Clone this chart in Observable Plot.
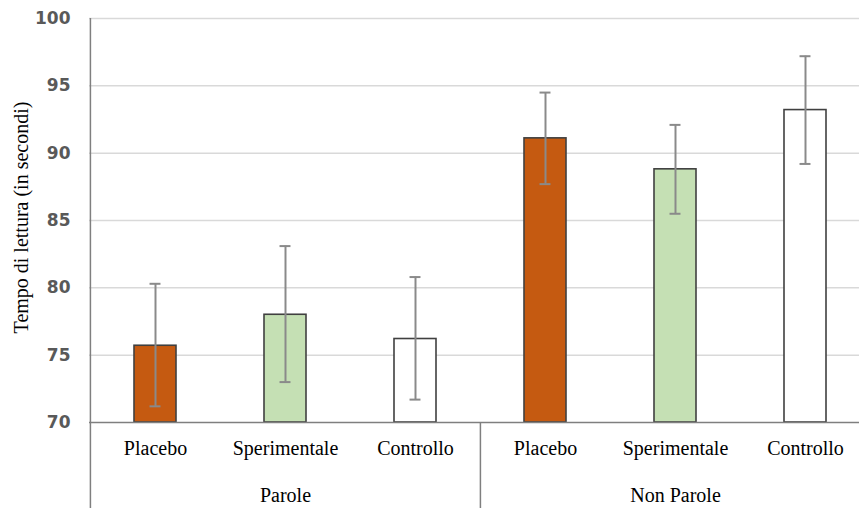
<!DOCTYPE html>
<html>
<head>
<meta charset="utf-8">
<script src="https://cdn.jsdelivr.net/npm/d3@7"></script>
<script src="https://cdn.jsdelivr.net/npm/@observablehq/plot@0.6"></script>
<style>
  html, body { margin: 0; padding: 0; background: #ffffff; }
  #chart { width: 859px; height: 508px; overflow: hidden; }
</style>
</head>
<body>
<div id="chart"></div>
<script>
// ---- data ----
const groups = ["Parole", "Non Parole"];
const conditions = ["Placebo", "Sperimentale", "Controllo"];
const meansParole = [75.7, 78.0, 76.2];
const meansNonParole = [91.1, 88.8, 93.2];
const errLowParole = [71.2, 73.0, 71.7];
const errHighParole = [80.3, 83.1, 80.8];
const errLowNonParole = [87.7, 85.5, 89.2];
const errHighNonParole = [94.5, 92.1, 97.2];
const yTicks = [70, 75, 80, 85, 90, 95, 100];
const conditionColors = ["#C55A11", "#C5E0B4", "#FFFFFF"];
const yLabel = "Tempo di lettura (in secondi)";

// ---- build table ----
const means = [meansParole, meansNonParole];
const lows = [errLowParole, errLowNonParole];
const highs = [errHighParole, errHighNonParole];
const data = [];
groups.forEach((g, gi) => {
  conditions.forEach((c, ci) => {
    data.push({key: g + "|" + c, group: g, cond: c, mean: means[gi][ci], lo: lows[gi][ci], hi: highs[gi][ci]});
  });
});
const keys = data.map(d => d.key);
const yMin = yTicks[0];

const W = 859, H = 508;
const mTop = 18, mBottom = 86, mLeft = 89;
const xOpts = {type: "band", domain: keys, range: [89, 870], paddingInner: 0.677, paddingOuter: 0.3385, align: 0.5};
const xs = Plot.scale({x: xOpts});
const step = xs.step;
const bw = xs.bandwidth;
const frameH = H - mTop - mBottom;

const groupFirst = groups.map(g => g + "|" + conditions[0]);
const groupMid = groups.map(g => ({key: g + "|" + conditions[1], label: g}));

const serif = "Liberation Serif";
const capInset = (bw - 11) / 2;

const plot = Plot.plot({
  width: W,
  height: H,
  marginTop: mTop,
  marginBottom: mBottom,
  marginLeft: mLeft,
  marginRight: 0,
  style: {background: "#ffffff", overflow: "visible"},
  x: {...xOpts, axis: null},
  y: {domain: [yTicks[0], yTicks[yTicks.length - 1]], axis: null},
  color: {domain: conditions, range: conditionColors},
  marks: [
    Plot.ruleY(yTicks.slice(1), {stroke: "#d9d9d9", strokeWidth: 1.5}),
    Plot.barY(data, {x: "key", y1: d => yMin, y2: "mean", fill: "cond", stroke: "#404040", strokeWidth: 1.6}),
    Plot.ruleX(data, {x: "key", y1: "lo", y2: "hi", stroke: "#8a8a8a", strokeWidth: 2}),
    Plot.tickY(data, {x: "key", y: "lo", stroke: "#8a8a8a", strokeWidth: 2, insetLeft: capInset, insetRight: capInset}),
    Plot.tickY(data, {x: "key", y: "hi", stroke: "#8a8a8a", strokeWidth: 2, insetLeft: capInset, insetRight: capInset}),
    Plot.ruleY([yMin], {stroke: "#7f7f7f", strokeWidth: 1.5}),
    Plot.ruleX([groupFirst[0]], {x: d => d, dx: -step / 2, stroke: "#7f7f7f", strokeWidth: 1.5, insetBottom: -mBottom}),
    Plot.ruleX([groupFirst[1]], {x: d => d, dx: -step / 2, stroke: "#7f7f7f", strokeWidth: 1.5, insetTop: frameH, insetBottom: -mBottom}),
    Plot.text(yTicks, {frameAnchor: "left", y: d => d, text: d => String(d), dx: -19, textAnchor: "end",
      fontFamily: "DejaVu Sans", fontWeight: "bold", fontSize: 17, fill: "#595959"}),
    Plot.text([yLabel], {frameAnchor: "left", text: d => d, rotate: -90, dx: -68, dy: -3, textAnchor: "middle",
      fontFamily: serif, fontSize: 20, fill: "#000000"}),
    Plot.text(data, {x: "key", y: d => yMin, text: "cond", dy: 26, lineAnchor: "middle",
      fontFamily: serif, fontSize: 20, fill: "#000000"}),
    Plot.text(groupMid, {x: "key", y: d => yMin, text: "label", dy: 73, lineAnchor: "middle",
      fontFamily: serif, fontSize: 20, fill: "#000000"})
  ]
});

document.getElementById("chart").appendChild(plot);
</script>
</body>
</html>
